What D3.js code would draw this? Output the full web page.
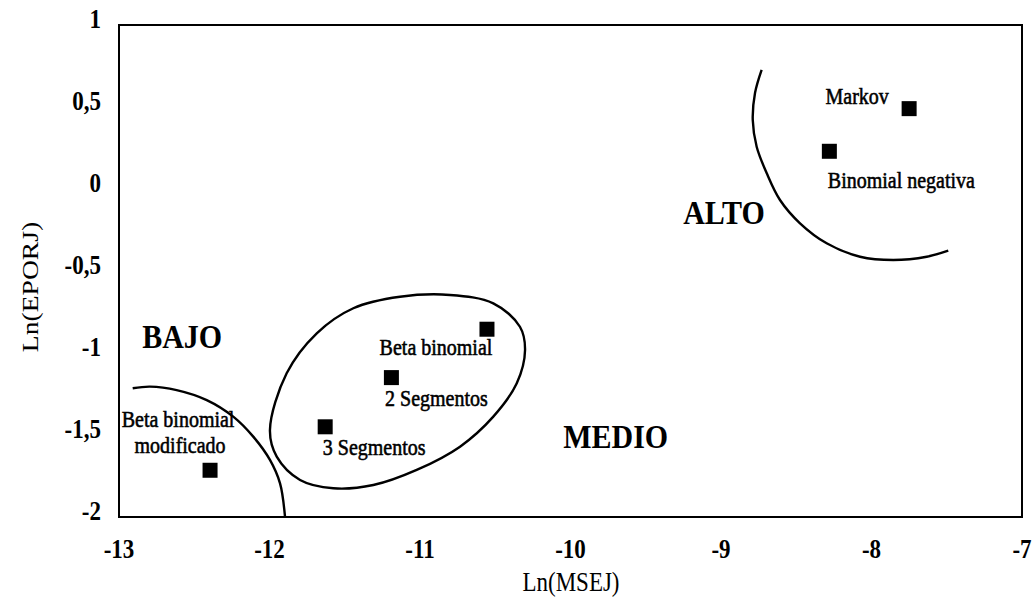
<!DOCTYPE html>
<html><head><meta charset="utf-8">
<script src="https://cdn.jsdelivr.net/npm/d3@7"></script>
<style>body{margin:0;background:#fff}</style>
</head><body><svg id="c" width="1034" height="598"></svg>
<script>
// ---- data ----
const xTicks = [-13, -12, -11, -10, -9, -8, -7];
const yTicks = [1, 0.5, 0, -0.5, -1, -1.5, -2];
const models = ["Markov", "Binomial negativa", "Beta binomial", "2 Segmentos", "3 Segmentos", "Beta binomial modificado"];
const lnMSEJ = [-7.75, -8.28, -10.555, -11.19, -11.63, -12.395];
const lnEPORJ = [0.49, 0.23, -0.855, -1.15, -1.45, -1.715];
const groups = ["BAJO", "MEDIO", "ALTO"];
const groupX = [-12.58, -9.70, -8.98];
const groupY = [-0.97, -1.58, -0.213];
const altoBoundary = [[-8.730,0.726],[-8.774,0.585],[-8.789,0.421],[-8.763,0.258],[-8.696,0.096],[-8.608,-0.067],[-8.475,-0.209],[-8.298,-0.331],[-8.076,-0.413],[-7.855,-0.433],[-7.633,-0.413],[-7.490,-0.376]];
const bajoBoundary = [[-12.909,-1.215],[-12.794,-1.205],[-12.617,-1.226],[-12.417,-1.287],[-12.241,-1.388],[-12.108,-1.510],[-11.997,-1.652],[-11.930,-1.795],[-11.897,-1.998]];
const medioBoundary = [[-11.997,-1.470],[-11.886,-1.124],[-11.686,-0.880],[-11.443,-0.727],[-11.133,-0.657],[-10.801,-0.646],[-10.513,-0.697],[-10.336,-0.840],[-10.302,-0.982],[-10.357,-1.185],[-10.513,-1.388],[-10.734,-1.571],[-11.022,-1.713],[-11.310,-1.805],[-11.576,-1.825],[-11.797,-1.774],[-11.952,-1.632]];

// ---- drawing ----
const svg = d3.select("#c");
const L = 119, R = 1022, T = 25, B = 517;
const x = d3.scaleLinear().domain([-13, -7]).range([L, R]);
const y = d3.scaleLinear().domain([-2, 1]).range([B, T]);
const fmt = v => String(v).replace(".", ",");
const SY = 1.15;
const font = "'Liberation Serif','Times New Roman',serif";

svg.append("rect").attr("width", 1034).attr("height", 598).attr("fill", "#fff");

// frame
svg.append("rect").attr("x", L).attr("y", T).attr("width", R - L).attr("height", B - T)
  .attr("fill", "none").attr("stroke", "#000").attr("stroke-width", 2);

// x tick labels
svg.append("g").selectAll("text").data(xTicks).join("text")
  .attr("transform", d => `translate(${x(d)},${558}) scale(1,${SY})`)
  .attr("text-anchor", "middle").attr("font-family", font).attr("font-weight", "bold")
  .attr("font-size", 23).text(fmt);

// y tick labels
svg.append("g").selectAll("text").data(yTicks).join("text")
  .attr("transform", d => `translate(101,${y(d) + 3}) scale(1,${SY})`)
  .attr("text-anchor", "end").attr("font-family", font).attr("font-weight", "bold")
  .attr("font-size", 23).text(fmt);

// axis titles
svg.append("text").attr("transform", `translate(${(L + R) / 2 + 0.5},591) scale(1,${SY})`)
  .attr("text-anchor", "middle").attr("font-family", font).attr("font-size", 23).text("Ln(MSEJ)");
svg.append("text").attr("transform", `translate(38,287) scale(1,${SY}) rotate(-90)`)
  .attr("text-anchor", "middle").attr("font-family", font).attr("font-size", 24).text("Ln(EPORJ)");

// boundaries
const line = d3.line().x(d => x(d[0])).y(d => y(d[1]));
svg.append("path").attr("d", line.curve(d3.curveCatmullRom)(altoBoundary))
  .attr("fill", "none").attr("stroke", "#000").attr("stroke-width", 2.4);
svg.append("path").attr("d", line.curve(d3.curveCatmullRom)(bajoBoundary))
  .attr("fill", "none").attr("stroke", "#000").attr("stroke-width", 2.4);
svg.append("path").attr("d", line.curve(d3.curveCatmullRomClosed)(medioBoundary))
  .attr("fill", "none").attr("stroke", "#000").attr("stroke-width", 2.4);

// points
const pts = models.map((m, i) => ({m, x: lnMSEJ[i], y: lnEPORJ[i]}));
svg.append("g").selectAll("rect").data(pts).join("rect")
  .attr("x", d => x(d.x) - 7.5).attr("y", d => y(d.y) - 7.5)
  .attr("width", 15).attr("height", 15).attr("fill", "#000");

// point labels (offsets in px)
const labelOffsets = {
  "Markov": [[-52, -5]],
  "Binomial negativa": [[72, 37]],
  "Beta binomial": [[-51, 26]],
  "2 Segmentos": [[45, 28]],
  "3 Segmentos": [[49, 28]],
  "Beta binomial modificado": [[-32, -43], [-30, -17]]
};
pts.forEach(p => {
  const offs = labelOffsets[p.m];
  const lines = offs.length === 2 ? ["Beta binomial", "modificado"] : [p.m];
  lines.forEach((t, k) => {
    svg.append("text")
      .attr("transform", `translate(${x(p.x) + offs[k][0]},${y(p.y) + offs[k][1]}) scale(1,${SY})`)
      .attr("text-anchor", "middle").attr("font-family", font).attr("font-size", 20)
      .attr("stroke", "#000").attr("stroke-width", 0.5).text(t);
  });
});

// group labels
svg.append("g").selectAll("text").data(groups).join("text")
  .attr("transform", (d, i) => `translate(${x(groupX[i])},${y(groupY[i])}) scale(1,${SY})`)
  .attr("text-anchor", "middle").attr("font-family", font).attr("font-weight", "bold")
  .attr("font-size", 30).text(d => d);
</script>
</body></html>
